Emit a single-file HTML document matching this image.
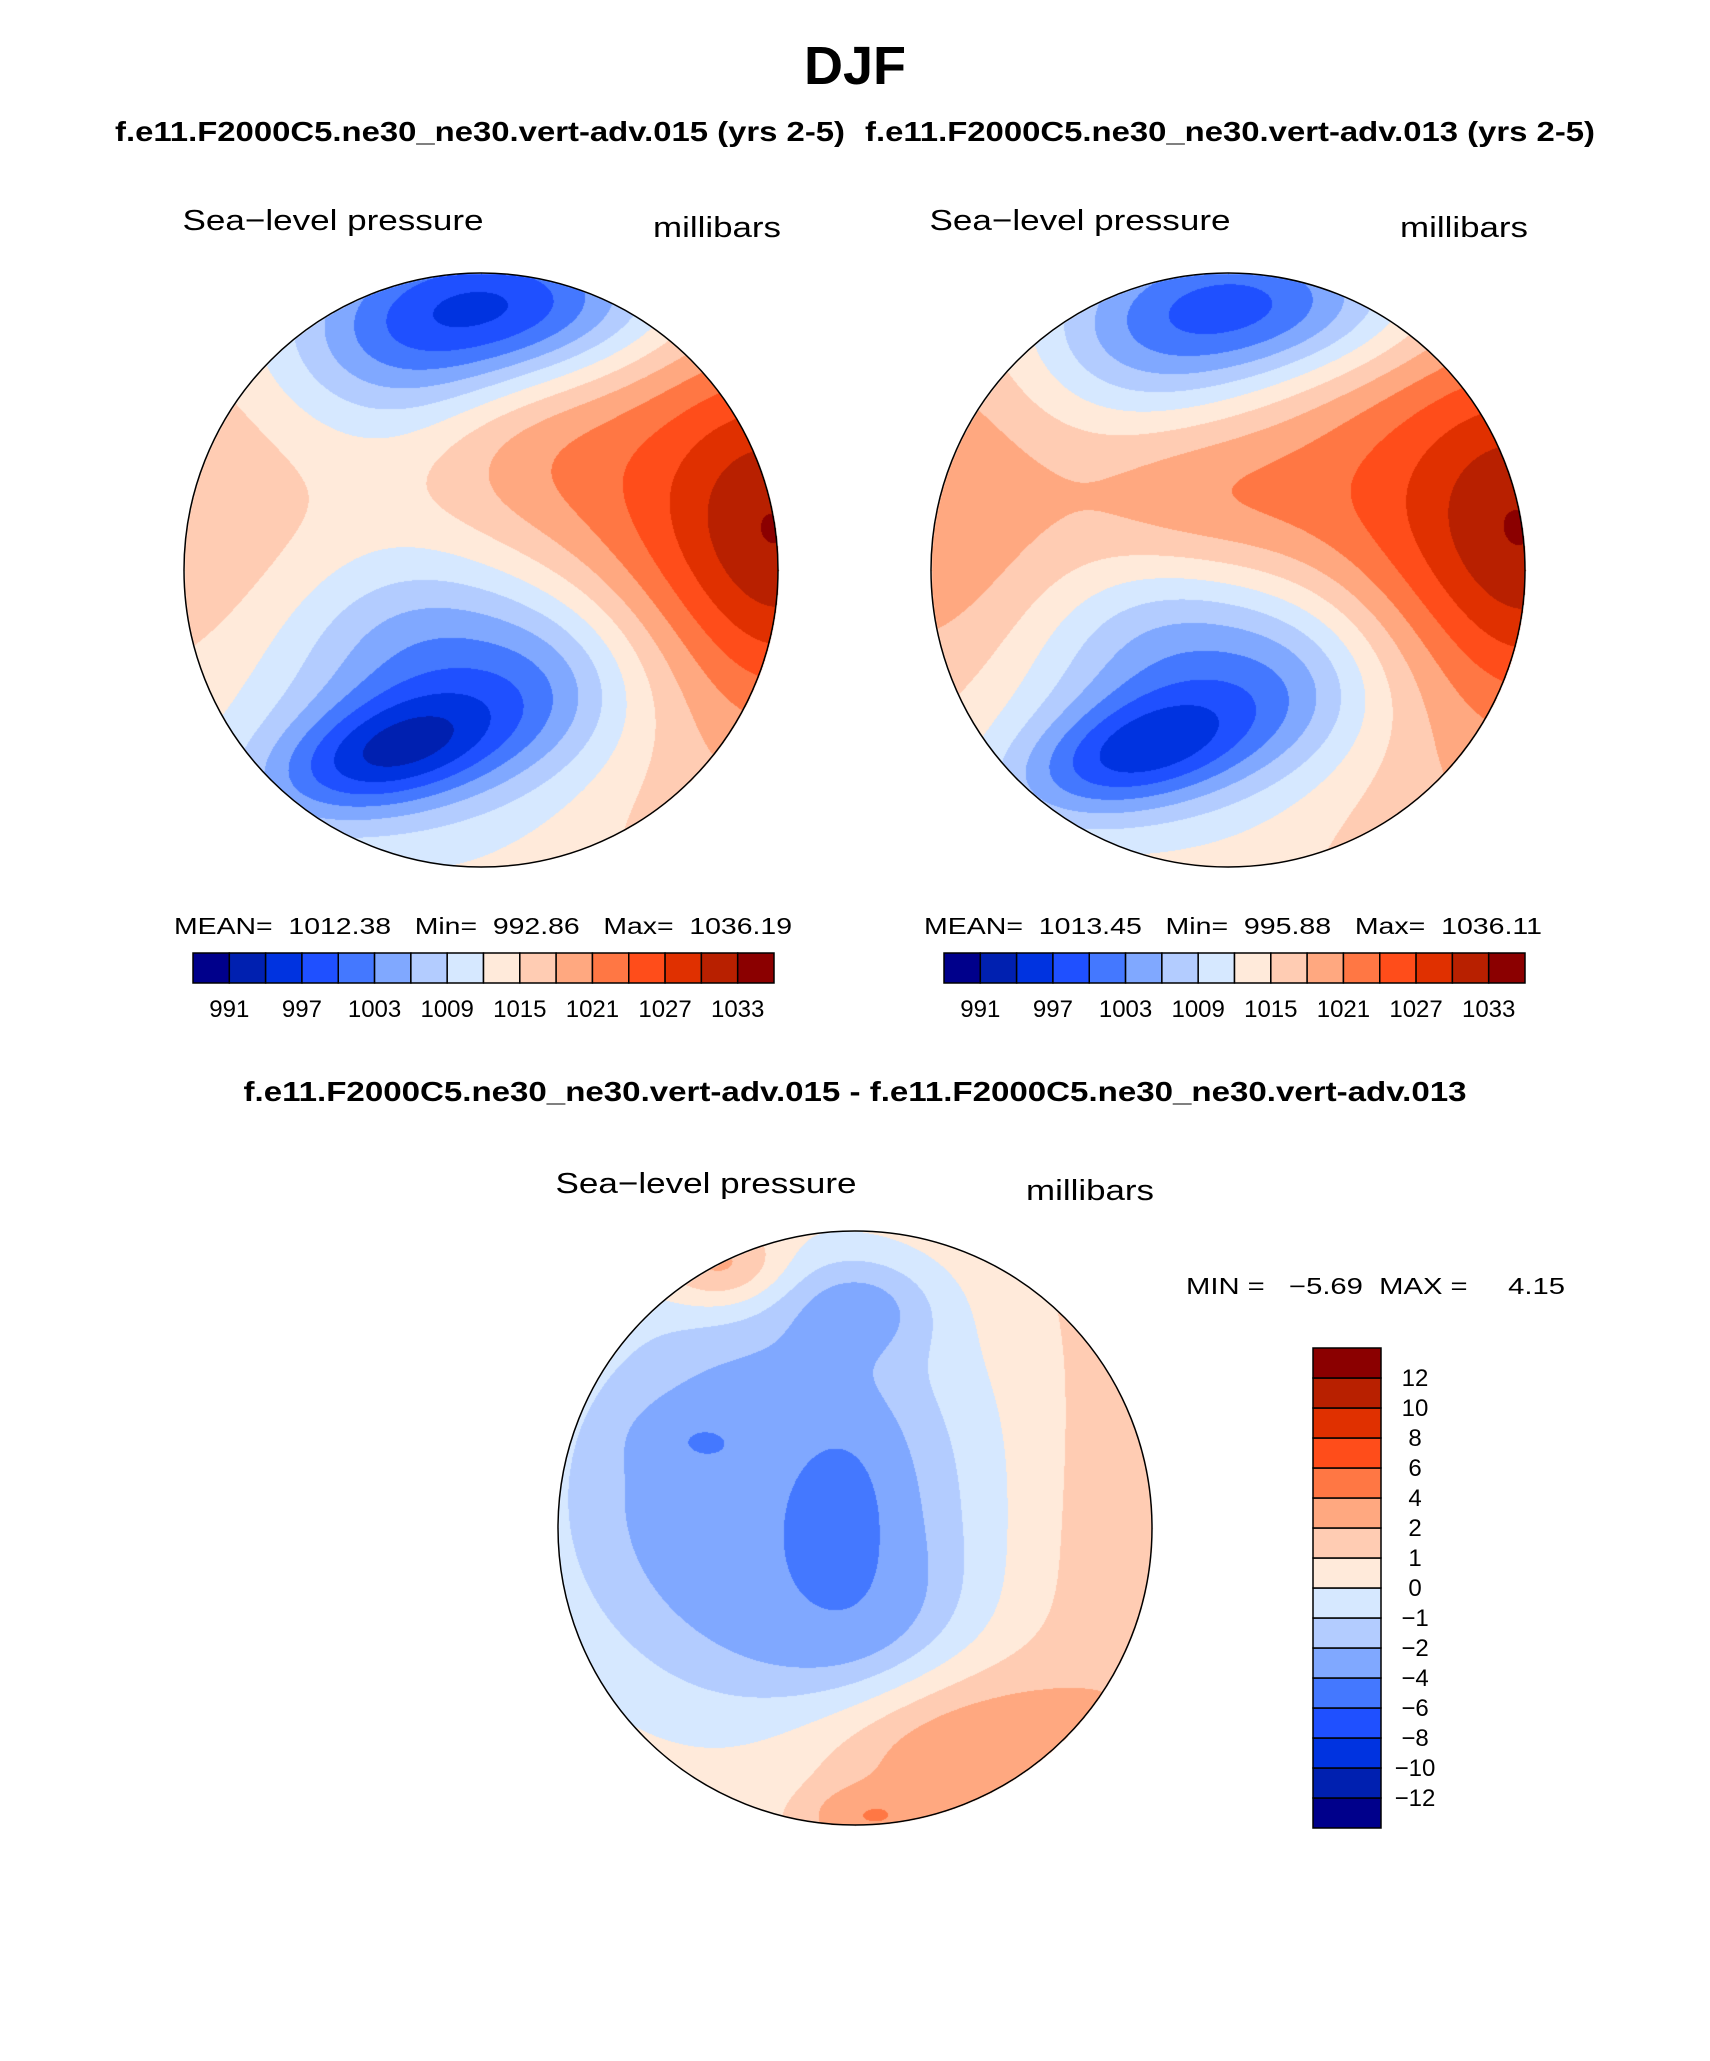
<!DOCTYPE html>
<html><head><meta charset="utf-8">
<style>
html,body{margin:0;padding:0;background:#fff;}
#wrap{position:relative;width:1710px;height:2061px;overflow:hidden;font-family:"Liberation Sans",sans-serif;}
canvas{position:absolute;}
svg{position:absolute;left:0;top:0;}
</style></head>
<body>
<div id="wrap">
<canvas id="c1" width="600" height="600" style="left:181px;top:270px"></canvas>
<canvas id="c2" width="600" height="600" style="left:928px;top:270px"></canvas>
<canvas id="c3" width="600" height="600" style="left:555px;top:1228px"></canvas>
<svg id="s" width="1710" height="2061">
<text x="855" y="84" text-anchor="middle" font-size="54" font-weight="bold">DJF</text>
<text x="480" y="141" text-anchor="middle" font-size="28" font-weight="bold" textLength="730" lengthAdjust="spacingAndGlyphs">f.e11.F2000C5.ne30_ne30.vert-adv.015 (yrs 2-5)</text>
<text x="1230" y="141" text-anchor="middle" font-size="28" font-weight="bold" textLength="730" lengthAdjust="spacingAndGlyphs">f.e11.F2000C5.ne30_ne30.vert-adv.013 (yrs 2-5)</text>
<text x="333" y="230" text-anchor="middle" font-size="29" textLength="301" lengthAdjust="spacingAndGlyphs">Sea−level pressure</text>
<text x="717" y="237" text-anchor="middle" font-size="29" textLength="128" lengthAdjust="spacingAndGlyphs">millibars</text>
<text x="1080" y="230" text-anchor="middle" font-size="29" textLength="301" lengthAdjust="spacingAndGlyphs">Sea−level pressure</text>
<text x="1464" y="237" text-anchor="middle" font-size="29" textLength="128" lengthAdjust="spacingAndGlyphs">millibars</text>
<text x="483" y="934" text-anchor="middle" font-size="23" textLength="618" lengthAdjust="spacingAndGlyphs" xml:space="preserve">MEAN=  1012.38   Min=  992.86   Max=  1036.19</text>
<text x="1233" y="934" text-anchor="middle" font-size="23" textLength="618" lengthAdjust="spacingAndGlyphs" xml:space="preserve">MEAN=  1013.45   Min=  995.88   Max=  1036.11</text>
<text x="855" y="1101" text-anchor="middle" font-size="28" font-weight="bold" textLength="1223" lengthAdjust="spacingAndGlyphs">f.e11.F2000C5.ne30_ne30.vert-adv.015 - f.e11.F2000C5.ne30_ne30.vert-adv.013</text>
<text x="706" y="1193" text-anchor="middle" font-size="29" textLength="301" lengthAdjust="spacingAndGlyphs">Sea−level pressure</text>
<text x="1090" y="1200" text-anchor="middle" font-size="29" textLength="128" lengthAdjust="spacingAndGlyphs">millibars</text>
<text x="1186" y="1294" font-size="23" textLength="379" lengthAdjust="spacingAndGlyphs" xml:space="preserve">MIN =   −5.69  MAX =     4.15</text>
<g id="cb1"></g>
<g id="cb2"></g>
<g id="cb3"></g>
<circle cx="481" cy="570" r="297" fill="none" stroke="#000" stroke-width="1.5"/>
<circle cx="1228" cy="570" r="297" fill="none" stroke="#000" stroke-width="1.5"/>
<circle cx="855" cy="1528" r="297" fill="none" stroke="#000" stroke-width="1.5"/>
</svg>
</div>
<script>
// colour table (16 classes)
const colors = ["#00008B","#0020B0","#0033E0","#1F50FF","#4478FF","#80A8FF","#B3CCFF","#D6E8FF","#FFEADA","#FFCCB3","#FFA880","#FF7744","#FF4D1A","#E03000","#B82000","#8B0000"];
// contour levels
const slpLevels = [991,994,997,1000,1003,1006,1009,1012,1015,1018,1021,1024,1027,1030,1033];
const slpTickLabels = ["991","997","1003","1009","1015","1021","1027","1033"];
const diffLevels = [-12,-10,-8,-6,-4,-2,-1,0,1,2,4,6,8,10,12];
const diffTickLabels = ["−12","−10","−8","−6","−4","−2","−1","0","1","2","4","6","8","10","12"];
// field features: [u, v, amplitude, sigmaU, sigmaV, rotationDeg]
const base015 = 1013.5;
const features015 = [
 [-0.32,0.62,-13,0.30,0.13,-15],
 [-0.05,0.45,-10,0.50,0.28,-10],
 [-0.20,0.20,-4,0.30,0.2,0],
 [0.25,0.35,-3,0.2,0.2,0],
 [0.10,-0.90,-16,0.38,0.18,0],
 [-0.30,-0.72,-7,0.30,0.2,0],
 [1.05,-0.10,15,0.28,0.45,0],
 [0.60,-0.20,9,0.38,0.5,0],
 [0.10,-0.40,3,0.25,0.2,0],
 [-1.00,-0.20,4,0.35,0.5,0],
 [0.60,0.80,2,0.3,0.3,0]
];
const base013 = 1014.5;
const features013 = [
 [-0.32,0.62,-12,0.30,0.13,-15],
 [-0.05,0.45,-10,0.50,0.28,-10],
 [-0.20,0.20,-4,0.30,0.2,0],
 [0.25,0.35,-3,0.2,0.2,0],
 [0.10,-0.90,-15,0.38,0.18,0],
 [-0.30,-0.72,-6,0.30,0.2,0],
 [1.05,-0.10,14,0.28,0.45,0],
 [0.60,-0.20,9,0.38,0.5,0],
 [-0.10,-0.25,5,0.30,0.2,0],
 [-1.00,-0.20,6,0.35,0.5,0],
 [0.60,0.80,2,0.3,0.3,0]
];
const baseDiff = 1.3;
const featuresDiff = [
 [-0.30,-0.10,-4.8,0.55,0.55,0],
 [-0.03,-0.06,-2.0,0.11,0.20,0],
 [0.02,-0.75,-2.0,0.18,0.12,0],
 [-0.54,-0.30,-1.3,0.12,0.07,0],
 [0.00,0.30,-1.5,0.25,0.2,0],
 [0.35,0.75,2.4,0.35,0.2,0],
 [0.05,0.97,2.5,0.12,0.06,0],
 [-0.45,-0.88,2.5,0.15,0.1,0],
 [0.90,0.00,0.8,0.3,0.5,0]
];
function field(base, feats, u, v){
  let s = base;
  for (const f of feats){
    const a = f[5]*Math.PI/180, du=u-f[0], dv=v-f[1];
    const x = du*Math.cos(a)+dv*Math.sin(a), y = -du*Math.sin(a)+dv*Math.cos(a);
    s += f[2]*Math.exp(-0.5*((x/f[3])**2+(y/f[4])**2));
  }
  return s;
}
function bin(levels, val){ let k=0; while(k<levels.length && val>=levels[k]) k++; return k; }
function hex(c){ return [parseInt(c.slice(1,3),16),parseInt(c.slice(3,5),16),parseInt(c.slice(5,7),16)]; }
const rgb = colors.map(hex);
function drawMap(id, base, feats, levels){
  const cv=document.getElementById(id), ctx=cv.getContext('2d');
  const img=ctx.createImageData(600,600), R=297, C=300;
  for(let y=0;y<600;y++)for(let x=0;x<600;x++){
    const u=(x-C)/R, v=(y-C)/R;
    if(u*u+v*v>1) continue;
    const c=rgb[bin(levels, field(base,feats,u,v))];
    const i=(y*600+x)*4; img.data[i]=c[0];img.data[i+1]=c[1];img.data[i+2]=c[2];img.data[i+3]=255;
  }
  ctx.putImageData(img,0,0);
}
drawMap('c1', base015, features015, slpLevels);
drawMap('c2', base013, features013, slpLevels);
drawMap('c3', baseDiff, featuresDiff, diffLevels);
const NS="http://www.w3.org/2000/svg";
function hbar(gid, x0, y0, w, h){
  const g=document.getElementById(gid), bw=w/colors.length;
  colors.forEach((c,i)=>{
    const r=document.createElementNS(NS,'rect');
    r.setAttribute('x',x0+i*bw);r.setAttribute('y',y0);r.setAttribute('width',bw);r.setAttribute('height',h);
    r.setAttribute('fill',c);r.setAttribute('stroke','#000');r.setAttribute('stroke-width','1.5');
    
    
    g.appendChild(r);
  });
  slpTickLabels.forEach((t,j)=>{
    const k=2*j+1, tx=document.createElementNS(NS,'text');
    tx.setAttribute('x',x0+k*bw);tx.setAttribute('y',y0+h+34);tx.setAttribute('text-anchor','middle');tx.setAttribute('font-size','24');
    tx.textContent=t;
    
    
    g.appendChild(tx);
  });
}
hbar('cb1',193,953,581,30);
hbar('cb2',944,953,581,30);
(function(){
  const g=document.getElementById('cb3'), x0=1313, y0=1348, w=68, h=480, bh=h/colors.length;
  colors.forEach((c,i)=>{
    const r=document.createElementNS(NS,'rect');
    r.setAttribute('x',x0);r.setAttribute('y',y0+(colors.length-1-i)*bh);r.setAttribute('width',w);r.setAttribute('height',bh);
    r.setAttribute('fill',c);r.setAttribute('stroke','#000');r.setAttribute('stroke-width','1.5');
    
    
    g.appendChild(r);
  });
  diffTickLabels.forEach((t,j)=>{
    const yb=y0+(colors.length-1-j)*bh, tx=document.createElementNS(NS,'text');
    tx.setAttribute('x',1415);tx.setAttribute('y',yb+8);tx.setAttribute('text-anchor','middle');tx.setAttribute('font-size','24');
    tx.textContent=t;
    
    
    g.appendChild(tx);
  });
})();
</script>
</body></html>
